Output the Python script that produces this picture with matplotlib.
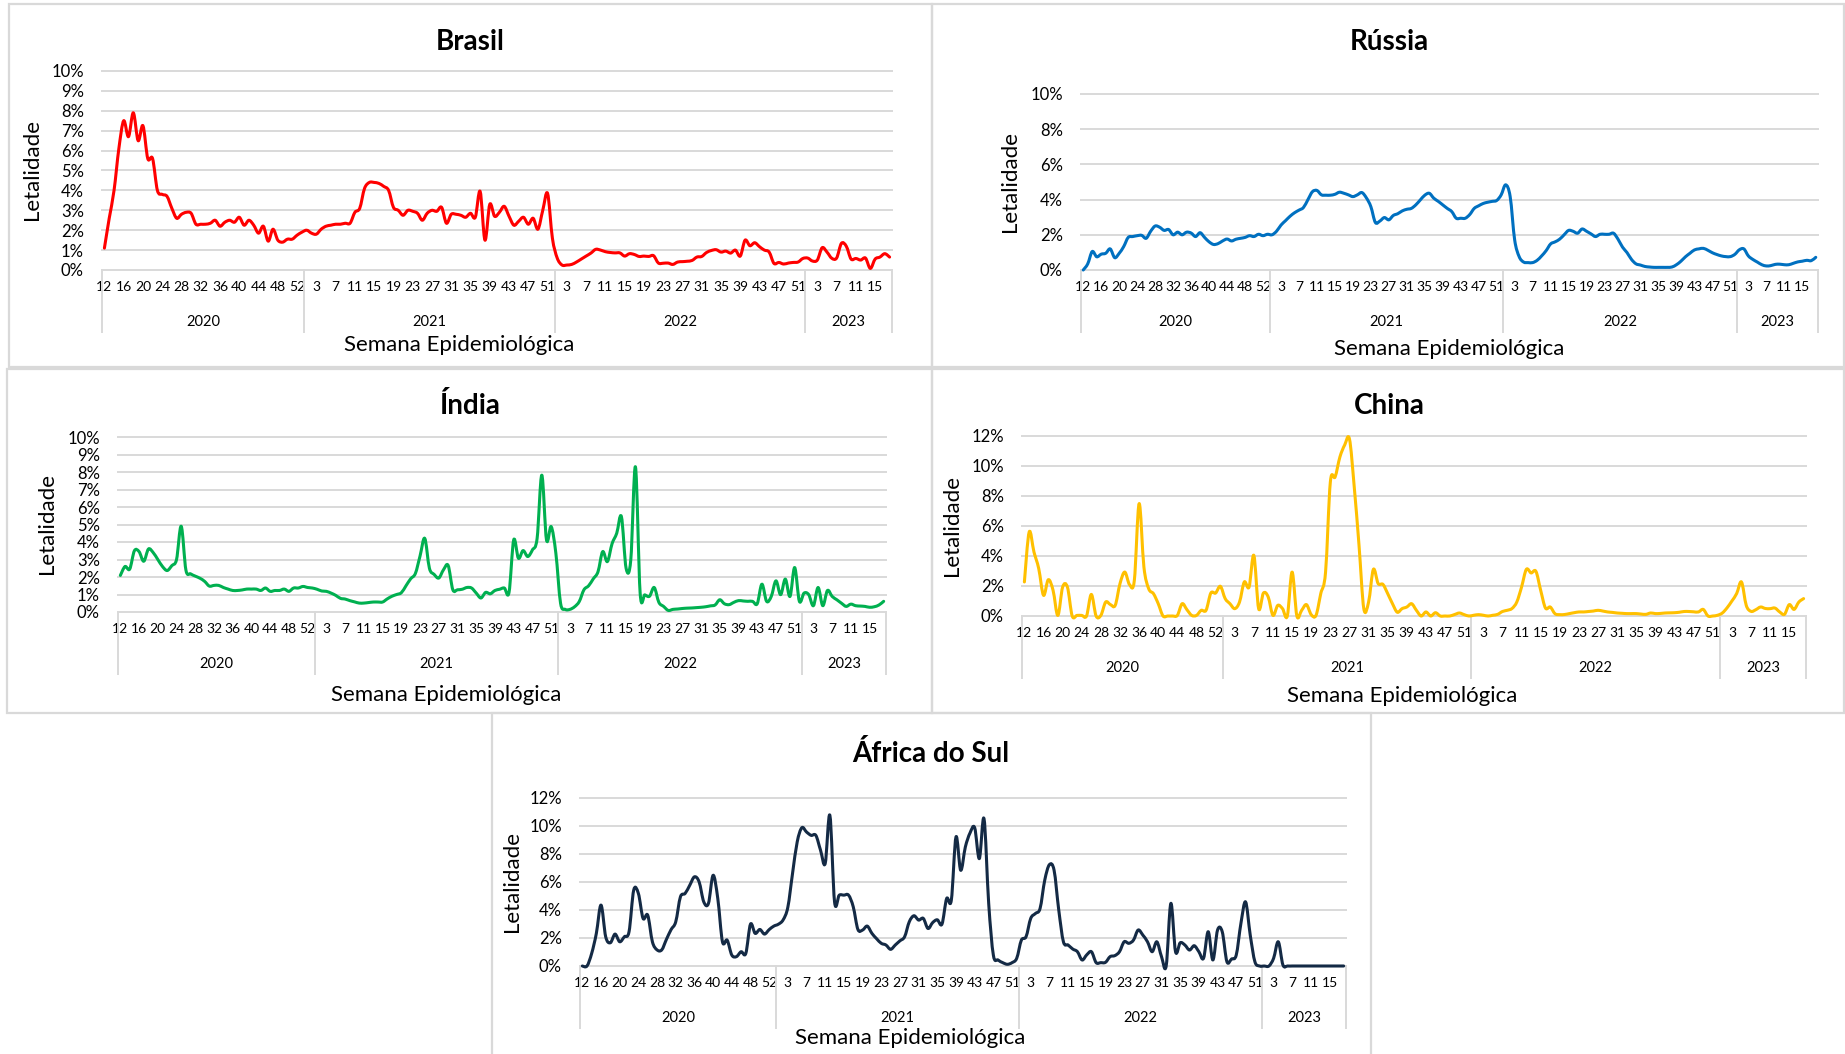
import matplotlib
matplotlib.use("Agg")
import matplotlib.pyplot as plt
from matplotlib.patches import Rectangle, PathPatch
from matplotlib.path import Path
from matplotlib.transforms import blended_transform_factory
import numpy as np

plt.rcParams['font.family'] = ['Lato', 'DejaVu Sans']

# ---------------------------------------------------------------------------
# Epidemiological weeks covered: 2020 (12-53), 2021 (1-52), 2022 (1-52), 2023 (1-18)
# ---------------------------------------------------------------------------
years = ["2020", "2021", "2022", "2023"]
weeks_2020 = list(range(12, 54))
weeks_2021 = list(range(1, 53))
weeks_2022 = list(range(1, 53))
weeks_2023 = list(range(1, 19))

# Weekly case fatality (%)
brasil_2020 = [1.1, 2.6, 4.0, 6.1, 7.5, 6.7, 7.9, 6.5, 7.25, 5.6, 5.6, 4.0, 3.8, 3.7, 3.1, 2.6, 2.8, 2.9,
               2.85, 2.3, 2.3, 2.3, 2.35, 2.5, 2.2, 2.4, 2.5, 2.4, 2.65, 2.25, 2.5, 2.25, 1.85, 2.2, 1.45,
               2.05, 1.5, 1.4, 1.55, 1.55, 1.75, 1.9]
brasil_2021 = [2.0, 1.85, 1.8, 2.05, 2.2, 2.25, 2.3, 2.3, 2.35, 2.35, 2.9, 3.1, 4.1, 4.4, 4.4, 4.35, 4.2,
               4.0, 3.15, 3.0, 2.75, 3.0, 2.95, 2.85, 2.5, 2.85, 3.0, 2.95, 3.15, 2.35, 2.8, 2.8, 2.75,
               2.65, 2.85, 2.65, 3.95, 1.5, 3.3, 2.7, 2.9, 3.2, 2.7, 2.25, 2.45, 2.65, 2.3, 2.6, 2.05,
               3.0, 3.85, 1.6]
brasil_2022 = [0.6, 0.25, 0.25, 0.28, 0.4, 0.55, 0.7, 0.85, 1.04, 1.0, 0.92, 0.88, 0.86, 0.86, 0.7, 0.82,
               0.78, 0.68, 0.7, 0.68, 0.72, 0.35, 0.34, 0.35, 0.28, 0.4, 0.42, 0.44, 0.48, 0.65, 0.68,
               0.88, 0.98, 1.02, 0.9, 0.95, 0.85, 1.0, 0.7, 1.5, 1.22, 1.37, 1.17, 1.0, 0.9, 0.33, 0.38,
               0.3, 0.35, 0.38, 0.4, 0.58]
brasil_2023 = [0.6, 0.45, 0.5, 1.12, 0.9, 0.59, 0.6, 1.34, 1.2, 0.55, 0.58, 0.5, 0.6, 0.08, 0.55, 0.65,
               0.82, 0.65]

russia_2020 = [0.0, 0.35, 1.05, 0.75, 0.9, 0.95, 1.2, 0.7, 0.95, 1.33, 1.85, 1.9, 1.95, 1.97, 1.8, 2.2,
               2.5, 2.43, 2.25, 2.3, 2.0, 2.15, 2.0, 2.15, 2.1, 1.9, 2.12, 1.85, 1.6, 1.45, 1.5, 1.65,
               1.76, 1.65, 1.75, 1.8, 1.85, 1.95, 1.9, 2.03, 1.95, 2.03]
russia_2021 = [2.0, 2.2, 2.55, 2.8, 3.05, 3.25, 3.4, 3.55, 4.0, 4.45, 4.52, 4.27, 4.25, 4.25, 4.3, 4.42,
               4.36, 4.27, 4.17, 4.27, 4.4, 4.1, 3.6, 2.7, 2.78, 2.98, 2.85, 3.1, 3.2, 3.36, 3.45, 3.5,
               3.7, 3.98, 4.25, 4.36, 4.08, 3.9, 3.7, 3.5, 3.32, 2.94, 2.94, 2.94, 3.15, 3.5, 3.65, 3.78,
               3.85, 3.9, 3.95, 4.27]
russia_2022 = [4.84, 4.17, 1.71, 0.76, 0.45, 0.42, 0.42, 0.55, 0.8, 1.1, 1.48, 1.6, 1.75, 2.0, 2.25, 2.2,
               2.09, 2.33, 2.2, 2.05, 1.9, 2.03, 2.03, 2.03, 2.09, 1.75, 1.3, 0.99, 0.6, 0.35, 0.28, 0.2,
               0.17, 0.15, 0.15, 0.15, 0.15, 0.17, 0.3, 0.5, 0.75, 0.95, 1.14, 1.2, 1.23, 1.12, 0.98,
               0.88, 0.8, 0.76, 0.76, 0.89]
russia_2023 = [1.15, 1.2, 0.8, 0.6, 0.45, 0.3, 0.23, 0.25, 0.32, 0.33, 0.3, 0.3, 0.38, 0.46, 0.5, 0.55,
               0.53, 0.72]

india_2020 = [2.09, 2.6, 2.45, 3.5, 3.45, 2.9, 3.6, 3.4, 3.0, 2.6, 2.37, 2.65, 3.0, 4.9, 2.4, 2.18, 2.05,
              1.93, 1.75, 1.48, 1.52, 1.52, 1.4, 1.31, 1.23, 1.23, 1.26, 1.31, 1.31, 1.31, 1.23, 1.37,
              1.18, 1.23, 1.23, 1.31, 1.18, 1.37, 1.37, 1.46, 1.4, 1.37]
india_2021 = [1.3, 1.2, 1.18, 1.08, 0.95, 0.78, 0.74, 0.65, 0.58, 0.51, 0.51, 0.54, 0.57, 0.57, 0.57, 0.75,
              0.9, 1.0, 1.1, 1.5, 1.9, 2.2, 3.2, 4.21, 2.5, 2.15, 1.94, 2.41, 2.66, 1.27, 1.27, 1.3, 1.4,
              1.37, 1.08, 0.8, 1.12, 1.04, 1.23, 1.3, 1.37, 1.12, 4.12, 3.07, 3.51, 3.17, 3.55, 4.21,
              7.82, 4.12, 4.88, 3.36]
india_2022 = [0.51, 0.15, 0.15, 0.3, 0.6, 1.27, 1.5, 1.9, 2.3, 3.45, 2.88, 3.9, 4.5, 5.45, 2.5, 2.98, 8.29,
              1.08, 0.98, 0.9, 1.4, 0.55, 0.32, 0.09, 0.15, 0.17, 0.2, 0.22, 0.23, 0.25, 0.27, 0.3, 0.35,
              0.4, 0.7, 0.47, 0.42, 0.55, 0.65, 0.63, 0.61, 0.61, 0.47, 1.59, 0.61, 0.89, 1.78, 0.99,
              1.88, 0.89, 2.54, 0.61]
india_2023 = [1.08, 0.99, 0.36, 1.4, 0.36, 1.23, 0.89, 0.7, 0.5, 0.32, 0.45, 0.36, 0.34, 0.32, 0.27, 0.3,
              0.4, 0.61]

china_2020 = [2.27, 5.6, 4.27, 3.16, 1.38, 2.42, 1.71, 0.04, 1.93, 1.93, 0.0, 0.04, 0.04, 0.0, 1.44, 0.0,
              0.04, 0.93, 0.76, 0.71, 2.16, 2.93, 2.09, 2.38, 7.49, 3.27, 1.82, 1.49, 0.82, 0.0, 0.0, 0.0,
              0.04, 0.82, 0.42, 0.04, 0.04, 0.38, 0.38, 1.53, 1.53, 1.98]
china_2021 = [1.16, 0.82, 0.49, 0.93, 2.27, 1.93, 4.04, 0.49, 1.53, 1.27, 0.04, 0.71, 0.49, 0.0, 2.93, 0.0,
              0.38, 0.76, 0.09, 0.04, 1.5, 2.93, 8.93, 9.27, 10.6, 11.4, 11.8, 8.6, 4.71, 0.49, 0.93,
              3.11, 2.16, 2.11, 1.49, 0.82, 0.25, 0.49, 0.6, 0.82, 0.38, 0.0, 0.27, 0.0, 0.22, 0.0, 0.0,
              0.0, 0.1, 0.2, 0.09, 0.0]
china_2022 = [0.05, 0.09, 0.05, 0.0, 0.05, 0.11, 0.3, 0.38, 0.5, 0.93, 1.93, 3.11, 2.87, 2.98, 1.71, 0.53,
              0.6, 0.15, 0.09, 0.1, 0.16, 0.22, 0.27, 0.27, 0.3, 0.33, 0.38, 0.33, 0.27, 0.24, 0.2, 0.18,
              0.16, 0.16, 0.16, 0.13, 0.11, 0.2, 0.16, 0.17, 0.2, 0.21, 0.22, 0.25, 0.3, 0.3, 0.28, 0.27,
              0.44, 0.0, 0.0, 0.05]
china_2023 = [0.2, 0.55, 1.0, 1.5, 2.27, 0.71, 0.31, 0.42, 0.6, 0.5, 0.49, 0.53, 0.27, 0.11, 0.76, 0.44,
              0.93, 1.16]

africa_2020 = [0.0, 0.0, 0.9, 2.33, 4.35, 2.09, 1.66, 2.28, 1.73, 2.09, 2.45, 5.42, 5.18, 3.4, 3.63, 1.73,
               1.15, 1.15, 1.9, 2.6, 3.16, 4.94, 5.18, 5.77, 6.37, 6.01, 4.58, 4.47, 6.48, 4.82, 1.73, 1.85,
               0.78, 0.67, 1.02, 0.9, 2.99, 2.33, 2.61, 2.28, 2.6, 2.85]
africa_2021 = [2.99, 3.3, 4.2, 6.6, 8.86, 9.88, 9.57, 9.33, 9.33, 8.27, 7.32, 10.76, 4.58, 5.06, 5.06, 5.06,
               4.23, 2.61, 2.57, 2.85, 2.33, 1.95, 1.62, 1.5, 1.19, 1.5, 1.8, 2.09, 3.16, 3.59, 3.28, 3.4,
               2.68, 3.1, 3.3, 2.99, 4.82, 4.7, 9.22, 6.84, 8.5, 9.5, 9.88, 7.67, 10.52, 4.47, 0.78, 0.43,
               0.24, 0.12, 0.24, 0.55]
africa_2022 = [1.85, 2.09, 3.4, 3.75, 4.11, 6.13, 7.24, 6.84, 4.0, 1.73, 1.5, 1.21, 1.02, 0.43, 0.8, 1.02,
               0.24, 0.24, 0.26, 0.67, 0.74, 1.02, 1.73, 1.62, 1.85, 2.57, 2.21, 1.73, 1.02, 1.73, 0.67,
               0.0, 4.47, 1.02, 1.66, 1.5, 1.14, 1.45, 1.02, 0.55, 2.45, 0.43, 2.57, 2.45, 0.31, 0.5, 0.78,
               3.04, 4.58, 2.2, 0.3, 0.0]
africa_2023 = [0.0, 0.0, 0.55, 1.73, 0.07, 0.0, 0.0, 0.0, 0.0, 0.0, 0.0, 0.0, 0.0, 0.0, 0.0, 0.0, 0.0, 0.0]

# ---------------------------------------------------------------------------
W, H, DPI = 1845, 1054, 100
GRID = '#d9d9d9'
fig = plt.figure(figsize=(W / DPI, H / DPI), dpi=DPI)
fig.patch.set_facecolor('white')

week_groups = [weeks_2020, weeks_2021, weeks_2022, weeks_2023]
weeks = sum(week_groups, [])
group_sizes = [len(g) for g in week_groups]
bounds = np.concatenate([[0], np.cumsum(group_sizes)])


def fx(px):
    return px / W


def fy(py):
    return 1 - py / H


def smooth_path(x, y):
    """Smoothed line through every data point (cubic Bezier, Catmull-Rom tangents)."""
    pts = np.column_stack([x, y]).astype(float)
    ext = np.vstack([pts[0], pts, pts[-1]])
    verts = [pts[0]]
    codes = [Path.MOVETO]
    for i in range(len(pts) - 1):
        p0, p1, p2, p3 = ext[i], ext[i + 1], ext[i + 2], ext[i + 3]
        verts += [p1 + (p2 - p0) / 6.0, p2 - (p3 - p1) / 6.0, p2]
        codes += [Path.CURVE4] * 3
    return Path(verts, codes)


# Panel frames (pixel boxes: left, top, right, bottom)
frames = [(9, 4, 932, 367), (932, 4, 1844, 367), (7, 369, 932, 713),
          (932, 369, 1844, 713), (492, 713, 1371, 1058)]
for l, t, r, b in frames:
    fig.add_artist(Rectangle((fx(l), fy(b)), fx(r - l), (b - t) / H, transform=fig.transFigure,
                             fill=False, edgecolor=GRID, lw=1.6, zorder=0))

panels = [
    dict(title="Brasil", series=[brasil_2020, brasil_2021, brasil_2022, brasil_2023], color='#ff0000',
         box=(102, 71, 892, 270), ymax=10, ystep=1, title_xy=(470, 42), xlabel_xy=(459, 345),
         ylabel_xy=(32, 170)),
    dict(title="Rússia", series=[russia_2020, russia_2021, russia_2022, russia_2023], color='#0070c0',
         box=(1081, 94, 1818, 270), ymax=10, ystep=2, title_xy=(1389, 42), xlabel_xy=(1449, 349),
         ylabel_xy=(1010, 182)),
    dict(title="Índia", series=[india_2020, india_2021, india_2022, india_2023], color='#00b050',
         box=(118, 437, 886, 612), ymax=10, ystep=1, title_xy=(470, 406), xlabel_xy=(446, 695),
         ylabel_xy=(47, 524)),
    dict(title="China", series=[china_2020, china_2021, china_2022, china_2023], color='#ffc000',
         box=(1022, 436, 1806, 616), ymax=12, ystep=2, title_xy=(1389, 406), xlabel_xy=(1402, 696),
         ylabel_xy=(952, 526)),
    dict(title="África do Sul", series=[africa_2020, africa_2021, africa_2022, africa_2023], color='#142a45',
         box=(580, 798, 1346, 966), ymax=12, ystep=2, title_xy=(931, 753), xlabel_xy=(910, 1038),
         ylabel_xy=(512, 882)),
]

for p in panels:
    l, t, r, b = p['box']
    ax = fig.add_axes([fx(l), fy(b), fx(r - l), (b - t) / H])
    h_px = b - t
    values = sum(p['series'], [])
    x = np.arange(len(values))
    ax.add_patch(PathPatch(smooth_path(x, values), facecolor='none', edgecolor=p['color'], lw=2.2,
                           joinstyle='round', capstyle='round', clip_on=False, zorder=3))

    ax.set_xlim(-0.5, len(values) - 0.5)
    ax.set_ylim(0, p['ymax'])
    yt = np.arange(0, p['ymax'] + 0.001, p['ystep'])
    ax.set_yticks(yt)
    ax.set_yticklabels([f"{int(v)}%" for v in yt], fontsize=12)
    ax.yaxis.grid(True, color=GRID, lw=1.4)
    for gl in ax.get_ygridlines():
        gl.set_clip_on(False)
    ax.set_axisbelow(True)
    for s in ax.spines.values():
        s.set_visible(False)
    ax.tick_params(axis='both', length=0)
    ax.tick_params(axis='y', pad=13)
    ax.set_xticks(x[::4])
    ax.set_xticklabels([str(w) for w in weeks[::4]], fontsize=10)
    ax.tick_params(axis='x', pad=8)

    # Year grouping of the category axis
    trans = blended_transform_factory(ax.transData, ax.transAxes)
    for bx in bounds:
        ax.plot([bx - 0.5, bx - 0.5], [0, -62 / h_px], transform=trans, color=GRID, lw=1.4,
                clip_on=False)
    for yr, s0, s1 in zip(years, bounds[:-1], bounds[1:]):
        ax.text((s0 + s1 - 1) / 2, -52 / h_px, yr, transform=trans, ha='center', va='center',
                fontsize=10.5)

    fig.text(fx(p['title_xy'][0]), fy(p['title_xy'][1]), p['title'], ha='center', va='center',
             fontsize=20, fontweight='bold')
    fig.text(fx(p['xlabel_xy'][0]), fy(p['xlabel_xy'][1]), "Semana Epidemiológica", ha='center',
             va='center', fontsize=16)
    fig.text(fx(p['ylabel_xy'][0]), fy(p['ylabel_xy'][1]), "Letalidade", ha='center', va='center',
             rotation=90, fontsize=16)

fig.savefig("out.png", dpi=DPI, facecolor='white')
